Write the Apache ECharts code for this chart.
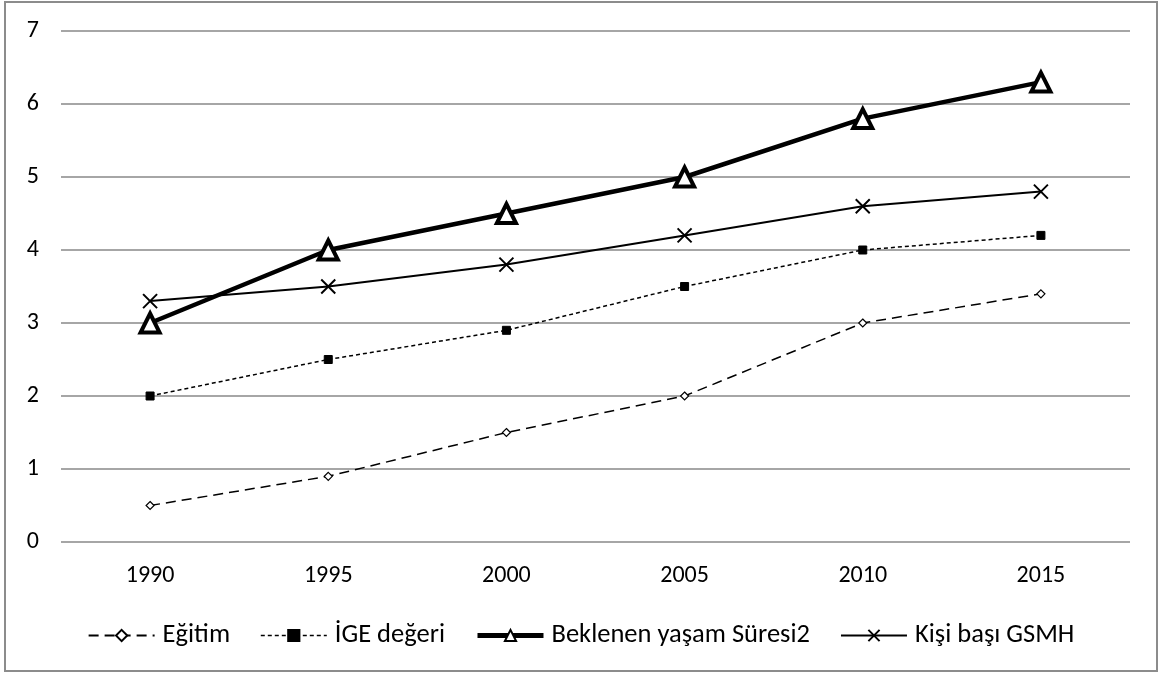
<!DOCTYPE html>
<html><head><meta charset="utf-8">
<script src="https://cdn.jsdelivr.net/npm/echarts@6/dist/echarts.min.js"></script>
<style>html,body{margin:0;padding:0;background:#fff}#c{width:1162px;height:675px}</style>
</head><body><div id="c"></div>
<script>
const categories = ['1990','1995','2000','2005','2010','2015'];
const egitim = [0.5, 0.9, 1.5, 2.0, 3.0, 3.4];
const ige = [2.0, 2.5, 2.9, 3.5, 4.0, 4.2];
const beklenen = [3.0, 4.0, 4.5, 5.0, 5.8, 6.3];
const kisiBasi = [3.3, 3.5, 3.8, 4.2, 4.6, 4.8];
const yTicks = [0,1,2,3,4,5,6,7];

const FONT = 'Carlito, Calibri, "Open Sans", "Noto Sans", sans-serif';
const chart = echarts.init(document.getElementById('c'));
chart.setOption({
  backgroundColor: '#fff',
  animation: false,
  graphic: [{type:'rect', shape:{x:5,y:2,width:1152,height:669}, style:{fill:'none', stroke:'#8c8c8c', lineWidth:2}, silent:true}],
  textStyle: {fontFamily: FONT},
  grid: {left: 61, right: 32, top: 31, bottom: 133},
  legend: {
    top: 617, left: 'center', itemWidth: 66, itemHeight: 14, itemGap: 30,
    textStyle: {fontSize: 26.5, color: '#000', fontFamily: FONT, padding: [0,0,0,3]},
    data: [
      {name:'Eğitim', lineStyle:{width:2}},
      {name:'İGE değeri', lineStyle:{width:1.5}},
      {name:'Beklenen yaşam Süresi2', lineStyle:{width:5}},
      {name:'Kişi başı GSMH', lineStyle:{width:2}}
    ]
  },
  xAxis: {
    type: 'category', data: categories, boundaryGap: true,
    axisLine: {show: false}, axisTick: {show: false},
    axisLabel: {fontSize: 24, color: '#000', margin: 22, fontFamily: FONT}
  },
  yAxis: {
    type: 'value', min: yTicks[0], max: yTicks[yTicks.length-1], interval: 1,
    axisLine: {show: false}, axisTick: {show: false},
    axisLabel: {fontSize: 24, color: '#000', margin: 22, fontFamily: FONT},
    splitLine: {lineStyle: {color: '#a6a6a6', width: 2}}
  },
  series: [
    {name:'Eğitim', type:'line', data: egitim, symbol:'diamond', symbolSize: 8,
     lineStyle:{color:'#000', width:1.5, type:[10,6]},
     itemStyle:{color:'#fff', borderColor:'#000', borderWidth:1.2}},
    {name:'İGE değeri', type:'line', data: ige, symbol:'rect', symbolSize: 8,
     lineStyle:{color:'#000', width:1.5, type:[4,3]},
     itemStyle:{color:'#000', borderColor:'#000', borderWidth:1}},
    {name:'Beklenen yaşam Süresi2', type:'line', data: beklenen, symbol:'triangle', symbolSize: 19,
     lineStyle:{color:'#000', width:4.5},
     itemStyle:{color:'#fff', borderColor:'#000', borderWidth:4}},
    {name:'Kişi başı GSMH', type:'line', data: kisiBasi, symbol:'path://M0,0L10,10M10,0L0,10', symbolSize: 14,
     lineStyle:{color:'#000', width:2},
     itemStyle:{color:'none', borderColor:'#000', borderWidth:2}}
  ]
});
</script></body></html>
